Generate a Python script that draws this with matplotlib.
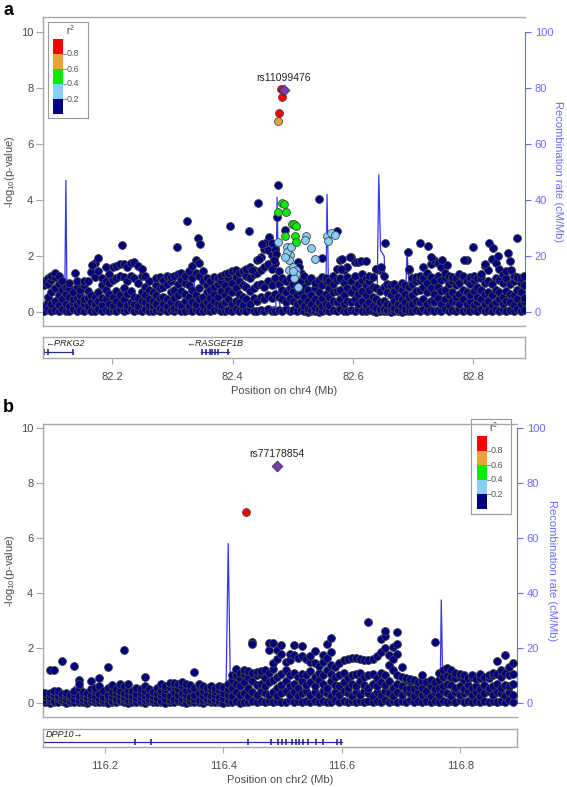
import matplotlib
matplotlib.use('Agg')
import matplotlib.pyplot as plt

plt.rcParams['font.family'] = ['Liberation Sans', 'DejaVu Sans']
plt.rcParams['mathtext.default'] = 'regular'

# ---------------- DATA ----------------
# r^2 legend bins and colours
r2_breaks = [0.2, 0.4, 0.6, 0.8]
r2_colors = ['#000080', '#87CEFA', '#00EE00', '#E8A33A', '#FF0000']
lead_color = '#7B3FA8'

# ---- Panel a (chr4) ----
a_xlim = (82.085, 82.886)
a_xticks = [82.2, 82.4, 82.6, 82.8]
a_lead_name = 'rs11099476'
a_lead_pos = [82.485]
a_lead_logp = [7.93]
a_red_pos = [82.480, 82.483, 82.477]
a_red_logp = [7.95, 7.67, 7.12]
a_orange_pos = [82.476]
a_orange_logp = [6.82]
a_green_pos = [82.483, 82.485, 82.476, 82.488, 82.499, 82.502, 82.506, 82.487, 82.503, 82.506]
a_green_logp = [3.90, 3.85, 3.56, 3.58, 3.14, 3.14, 3.08, 2.71, 2.71, 2.51]
a_lblue_pos = [82.476, 82.491, 82.495, 82.490, 82.497, 82.493, 82.493, 82.501, 82.506, 82.505,
               82.502, 82.509, 82.522, 82.521, 82.531, 82.537, 82.557, 82.558, 82.563, 82.570,
               82.487, 82.500]
a_lblue_logp = [2.51, 2.33, 2.04, 2.15, 2.33, 1.86, 1.50, 1.62, 1.50, 1.35,
                1.21, 0.90, 2.71, 2.56, 2.27, 1.89, 2.71, 2.55, 2.83, 2.75,
                1.98, 1.45]
# navy SNPs standing above the main band
a_top_pos = [82.217, 82.307, 82.325, 82.342, 82.346, 82.396, 82.428, 82.443, 82.476, 82.474,
             82.487, 82.460, 82.454, 82.449, 82.466, 82.470, 82.473, 82.469, 82.444, 82.432,
             82.508, 82.511, 82.543, 82.548, 82.573, 82.582, 82.596, 82.581, 82.614, 82.621,
             82.638, 82.646, 82.653, 82.691, 82.694, 82.712, 82.724, 82.729, 82.748, 82.756,
             82.784, 82.799, 82.820, 82.827, 82.832, 82.841, 82.857, 82.863, 82.873, 82.138,
             82.176, 82.166]
a_top_logp = [2.38, 2.33, 3.26, 2.65, 2.43, 3.08, 2.90, 3.88, 4.54, 3.40,
              2.93, 2.67, 2.45, 2.42, 2.45, 2.20, 2.07, 1.86, 1.89, 1.50,
              1.80, 1.60, 4.02, 1.94, 2.89, 1.89, 1.96, 1.52, 1.82, 1.82,
              1.54, 1.60, 2.48, 2.15, 1.52, 2.45, 2.37, 1.95, 1.86, 1.68,
              1.86, 2.33, 1.71, 2.45, 2.30, 2.00, 2.10, 1.50, 2.65, 1.38,
              1.92, 1.68]
# main band of low-LD SNPs, grouped by position
a_band_pos = [82.087, 82.093, 82.099, 82.105, 82.111, 82.117, 82.123, 82.129, 82.135, 82.141,
              82.147, 82.153, 82.159, 82.165, 82.171, 82.177, 82.183, 82.189, 82.195, 82.201,
              82.207, 82.213, 82.219, 82.225, 82.231, 82.237, 82.243, 82.249, 82.255, 82.261,
              82.267, 82.273, 82.279, 82.285, 82.291, 82.297, 82.303, 82.309, 82.315, 82.321,
              82.327, 82.333, 82.339, 82.345, 82.351, 82.357, 82.363, 82.369, 82.375, 82.381,
              82.387, 82.393, 82.399, 82.405, 82.411, 82.417, 82.423, 82.429, 82.435, 82.441,
              82.447, 82.453, 82.459, 82.465, 82.471, 82.477, 82.483, 82.489, 82.495, 82.501,
              82.507, 82.513, 82.519, 82.525, 82.531, 82.537, 82.543, 82.549, 82.555, 82.561,
              82.567, 82.573, 82.579, 82.585, 82.591, 82.597, 82.603, 82.609, 82.615, 82.621,
              82.627, 82.633, 82.639, 82.645, 82.651, 82.657, 82.663, 82.669, 82.675, 82.681,
              82.687, 82.693, 82.699, 82.705, 82.711, 82.717, 82.723, 82.729, 82.735, 82.741,
              82.747, 82.753, 82.759, 82.765, 82.771, 82.777, 82.783, 82.789, 82.795, 82.801,
              82.807, 82.813, 82.819, 82.825, 82.831, 82.837, 82.843, 82.849, 82.855, 82.861,
              82.867, 82.873, 82.879, 82.884]
a_band_logp = [
    [0.04, 0.2, 0.95, 1.1], [0.1, 0.35, 0.55, 1.0, 1.2], [0.05, 0.3, 0.7, 1.15, 1.3],
    [0.08, 0.4, 0.85, 1.25, 1.38], [0.03, 0.25, 0.6, 1.0, 1.3], [0.1, 0.45, 0.8, 1.1],
    [0.02, 0.3, 0.65, 0.9], [0.05, 0.2, 0.55, 0.85, 1.05], [0.1, 0.35, 0.45, 0.7],
    [0.03, 0.25, 0.5, 0.9, 1.1], [0.08, 0.4, 0.6, 0.8], [0.02, 0.3, 0.45, 0.95, 1.1],
    [0.1, 0.2, 0.5, 0.75, 1.12], [0.05, 0.35, 0.6, 1.44], [0.04, 0.3, 0.55, 1.25, 1.76],
    [0.1, 0.4, 0.7, 1.45], [0.02, 0.25, 0.5, 0.95, 1.2], [0.07, 0.45, 0.8, 1.1, 1.6],
    [0.03, 0.3, 0.65, 1.05, 1.35], [0.08, 0.2, 0.55, 1.15, 1.6], [0.05, 0.4, 0.75, 1.2, 1.65],
    [0.1, 0.3, 0.6, 1.3, 1.72], [0.02, 0.45, 0.85, 1.25, 1.7], [0.06, 0.25, 0.65, 1.1, 1.6],
    [0.1, 0.35, 0.75, 1.3, 1.75], [0.04, 0.3, 0.55, 1.2, 1.8], [0.08, 0.2, 0.5, 1.05, 1.65],
    [0.03, 0.4, 0.7, 1.3, 1.55], [0.1, 0.35, 0.6, 0.9, 1.3], [0.05, 0.25, 0.45, 0.8, 1.1],
    [0.02, 0.2, 0.4, 0.7], [0.08, 0.3, 0.6, 0.95, 1.2], [0.04, 0.15, 0.5, 0.85, 1.25],
    [0.1, 0.3, 0.55, 0.9, 1.15], [0.02, 0.2, 0.45, 1.0, 1.3], [0.06, 0.35, 0.7, 1.1, 1.25],
    [0.03, 0.15, 0.5, 0.8, 1.3], [0.09, 0.3, 0.6, 1.0, 1.35], [0.05, 0.25, 0.75, 1.15, 1.4],
    [0.02, 0.4, 0.65, 1.05, 1.3], [0.07, 0.2, 0.55, 0.95, 1.45], [0.04, 0.35, 0.8, 1.2, 1.65],
    [0.1, 0.3, 0.6, 1.4, 1.85], [0.05, 0.45, 0.85, 1.3, 1.75], [0.02, 0.25, 0.55, 1.1, 1.45],
    [0.08, 0.35, 0.7, 0.95, 1.2], [0.03, 0.2, 0.5, 0.8, 1.1], [0.06, 0.4, 0.65, 0.9, 1.25],
    [0.1, 0.3, 0.55, 1.0, 1.2], [0.04, 0.25, 0.75, 1.1, 1.3], [0.02, 0.35, 0.6, 0.95, 1.35],
    [0.08, 0.45, 0.8, 1.2, 1.4], [0.05, 0.3, 0.7, 1.05, 1.45], [0.1, 0.4, 0.85, 1.25, 1.5],
    [0.03, 0.35, 0.65, 1.1, 1.4], [0.07, 0.25, 0.55, 0.95, 1.45], [0.04, 0.45, 0.9, 1.3, 1.55],
    [0.1, 0.3, 0.75, 1.2, 1.6], [0.05, 0.5, 0.85, 1.35, 1.5], [0.02, 0.4, 0.95, 1.4, 1.85],
    [0.08, 0.55, 1.0, 1.5, 1.95], [0.04, 0.45, 0.9, 1.6, 2.25], [0.1, 0.6, 1.1, 1.7, 2.2],
    [0.05, 0.5, 0.95, 1.55, 2.05], [0.03, 0.65, 1.2, 1.75, 2.3], [0.08, 0.55, 1.0, 1.45],
    [0.05, 0.45, 0.8, 1.2], [0.1, 0.35, 0.7, 1.1], [0.04, 0.5, 0.85, 1.2], [0.07, 0.4, 0.75, 1.0],
    [0.02, 0.3, 0.6, 0.95], [0.06, 0.35, 0.7, 1.1, 1.4], [0.03, 0.2, 0.55, 0.9, 1.3],
    [0.01, 0.1, 0.4, 0.8, 1.1], [0.02, 0.08, 0.3, 0.6, 1.2], [0.04, 0.15, 0.45, 0.85, 1.05],
    [0.01, 0.1, 0.35, 0.7, 1.15], [0.03, 0.2, 0.5, 0.95, 1.25], [0.06, 0.3, 0.65, 1.1, 1.2],
    [0.02, 0.25, 0.55, 0.85, 1.1], [0.08, 0.4, 0.7, 1.0, 1.3], [0.04, 0.35, 0.75, 1.15, 1.55],
    [0.1, 0.45, 0.8, 1.2, 1.85], [0.05, 0.3, 0.6, 1.05, 1.5], [0.02, 0.4, 0.85, 1.25, 1.6],
    [0.07, 0.35, 0.7, 1.1, 1.95], [0.03, 0.45, 0.9, 1.3, 1.8], [0.09, 0.3, 0.65, 1.0, 1.8],
    [0.05, 0.4, 0.75, 1.15, 1.35], [0.02, 0.25, 0.6, 0.95, 1.2], [0.06, 0.35, 0.8, 1.1, 1.3],
    [0.04, 0.2, 0.55, 0.9, 1.25], [0.01, 0.15, 0.45, 0.85, 1.55], [0.03, 0.1, 0.35, 0.75, 1.5],
    [0.02, 0.12, 0.4, 0.9, 1.3], [0.05, 0.08, 0.3, 0.7, 1.0], [0.01, 0.1, 0.25, 0.6, 0.95],
    [0.02, 0.15, 0.4, 0.75, 1.0], [0.04, 0.08, 0.3, 0.55, 0.9], [0.01, 0.2, 0.45, 0.8, 1.05],
    [0.03, 0.12, 0.35, 0.65, 0.95], [0.05, 0.25, 0.55, 0.9, 1.5], [0.02, 0.3, 0.6, 1.0, 1.2],
    [0.07, 0.4, 0.75, 1.1, 1.25], [0.04, 0.35, 0.8, 1.15, 1.3], [0.09, 0.45, 0.9, 1.2, 1.6],
    [0.03, 0.3, 0.7, 1.05, 1.4], [0.06, 0.4, 0.85, 1.25, 1.7], [0.02, 0.35, 0.65, 1.1, 1.85],
    [0.08, 0.5, 0.9, 1.3, 1.75], [0.05, 0.3, 0.75, 1.15, 1.6], [0.1, 0.45, 0.8, 1.2, 1.4],
    [0.03, 0.25, 0.6, 1.0, 1.3], [0.07, 0.4, 0.7, 1.1, 1.25], [0.04, 0.35, 0.55, 0.95, 1.2],
    [0.09, 0.3, 0.65, 1.05, 1.35], [0.02, 0.45, 0.8, 1.2, 1.3], [0.06, 0.3, 0.7, 1.1, 1.85],
    [0.03, 0.4, 0.6, 1.0, 1.25], [0.08, 0.25, 0.75, 1.15, 1.3], [0.05, 0.35, 0.55, 0.9, 1.2],
    [0.1, 0.45, 0.8, 1.2, 1.35], [0.02, 0.3, 0.65, 1.05, 1.65], [0.07, 0.4, 0.7, 1.1, 1.5],
    [0.04, 0.25, 0.6, 1.0, 1.9], [0.09, 0.35, 0.8, 1.2, 1.75], [0.03, 0.45, 0.7, 1.15, 1.55],
    [0.06, 0.3, 0.55, 1.05, 1.35], [0.02, 0.4, 0.75, 1.2, 1.45], [0.08, 0.35, 0.65, 1.0, 1.82],
    [0.05, 0.25, 0.6, 1.1, 1.3], [0.1, 0.45, 0.8, 1.2, 1.25], [0.03, 0.3, 0.7, 1.05, 1.2],
    [0.06, 0.4, 0.5, 0.95, 1.3]]
a_rec_pos = [82.085, 82.089, 82.091, 82.093, 82.110, 82.121, 82.123, 82.125, 82.160, 82.200,
             82.250, 82.300, 82.332, 82.335, 82.338, 82.350, 82.400, 82.450, 82.472, 82.474,
             82.477, 82.480, 82.520, 82.555, 82.557, 82.560, 82.600, 82.640, 82.643, 82.646,
             82.652, 82.655, 82.687, 82.690, 82.692, 82.695, 82.750, 82.800, 82.886]
a_rec_rate = [0.6, 0.6, 5.0, 0.8, 0.9, 1.0, 47.0, 1.2, 0.8, 0.5,
              0.4, 0.3, 0.5, 18.0, 2.5, 1.5, 1.0, 1.2, 2.0, 41.0,
              5.0, 0.3, 0.3, 0.8, 42.0, 1.0, 0.8, 1.0, 49.0, 22.0,
              20.0, 1.0, 1.2, 22.0, 14.0, 1.0, 0.8, 0.8, 0.8]
a_genes = ['PRKG2', 'RASGEF1B']
a_gene_start = [82.06, 82.348]
a_gene_end = [82.135, 82.394]
a_gene_strand = ['-', '-']
a_gene_exons = [[82.087, 82.094, 82.135],
                [82.350, 82.356, 82.362, 82.366, 82.371, 82.376, 82.393]]

# ---- Panel b (chr2) ----
b_xlim = (116.095, 116.896)
b_xticks = [116.2, 116.4, 116.6, 116.8]
b_lead_name = 'rs77178854'
b_lead_pos = [116.490]
b_lead_logp = [8.63]
b_red_pos = [116.438]
b_red_logp = [6.95]
b_band_pos = [116.092, 116.099, 116.106, 116.113, 116.120, 116.127, 116.134, 116.141, 116.148, 116.155,
              116.162, 116.169, 116.176, 116.183, 116.190, 116.197, 116.204, 116.211, 116.218, 116.225,
              116.232, 116.239, 116.246, 116.253, 116.260, 116.267, 116.274, 116.281, 116.288, 116.295,
              116.302, 116.309, 116.316, 116.323, 116.330, 116.337, 116.344, 116.351, 116.358, 116.365,
              116.372, 116.379, 116.386, 116.393, 116.400, 116.407, 116.414, 116.421, 116.428, 116.435,
              116.442, 116.449, 116.456, 116.463, 116.470, 116.477, 116.484, 116.491, 116.498, 116.505,
              116.512, 116.519, 116.526, 116.533, 116.540, 116.547, 116.554, 116.561, 116.568, 116.575,
              116.582, 116.589, 116.596, 116.603, 116.610, 116.617, 116.624, 116.631, 116.638, 116.645,
              116.652, 116.659, 116.666, 116.673, 116.680, 116.687, 116.694, 116.701, 116.708, 116.715,
              116.722, 116.729, 116.736, 116.743, 116.750, 116.757, 116.764, 116.771, 116.778, 116.785,
              116.792, 116.799, 116.806, 116.813, 116.820, 116.827, 116.834, 116.841, 116.848, 116.855,
              116.862, 116.869, 116.876, 116.883, 116.890]
b_band_logp = [
    [0.02, 0.15, 0.3, 0.4], [0.05, 0.1, 0.25, 0.38], [0.01, 0.12, 0.2, 0.35, 1.2],
    [0.04, 0.08, 0.3, 0.42, 1.2], [0.02, 0.18, 0.27, 0.45], [0.06, 0.1, 0.22, 0.33, 1.53],
    [0.01, 0.14, 0.3, 0.38], [0.03, 0.09, 0.2, 0.28], [0.05, 0.16, 0.32, 0.45, 1.35],
    [0.02, 0.11, 0.24, 0.55, 0.84, 0.7], [0.04, 0.13, 0.3, 0.4], [0.01, 0.08, 0.2, 0.35],
    [0.06, 0.17, 0.28, 0.5, 0.81], [0.03, 0.1, 0.25, 0.42, 0.55], [0.02, 0.15, 0.33, 0.6, 0.9],
    [0.05, 0.12, 0.22, 0.45], [0.01, 0.18, 0.3, 0.55, 1.32], [0.04, 0.09, 0.26, 0.4, 0.65],
    [0.02, 0.14, 0.35, 0.5], [0.06, 0.11, 0.28, 0.45, 0.7], [0.03, 0.16, 0.22, 0.38, 0.6, 1.93],
    [0.01, 0.1, 0.3, 0.48, 0.68], [0.05, 0.13, 0.25, 0.42], [0.02, 0.17, 0.32, 0.55],
    [0.04, 0.08, 0.2, 0.36, 0.5], [0.01, 0.12, 0.27, 0.44, 0.93, 0.6], [0.06, 0.15, 0.3, 0.5],
    [0.03, 0.1, 0.24, 0.4], [0.02, 0.18, 0.35, 0.55], [0.05, 0.09, 0.28, 0.45, 0.68],
    [0.01, 0.14, 0.32, 0.5, 0.62], [0.04, 0.11, 0.26, 0.58, 0.72], [0.02, 0.16, 0.4, 0.6, 0.74],
    [0.06, 0.1, 0.3, 0.52, 0.7], [0.03, 0.13, 0.35, 0.62, 0.75], [0.01, 0.17, 0.28, 0.48, 0.7],
    [0.05, 0.09, 0.22, 0.5, 0.65], [0.02, 0.15, 0.3, 0.55, 1.14], [0.04, 0.12, 0.36, 0.6, 0.68],
    [0.01, 0.1, 0.25, 0.45, 0.6], [0.06, 0.16, 0.33, 0.55], [0.03, 0.11, 0.27, 0.5, 0.6],
    [0.02, 0.14, 0.3, 0.42, 0.55], [0.05, 0.09, 0.22, 0.48, 0.62], [0.01, 0.17, 0.35, 0.58],
    [0.04, 0.12, 0.3, 0.52, 0.7], [0.02, 0.25, 0.55, 0.85, 1.0], [0.06, 0.4, 0.7, 1.0, 1.24],
    [0.0, 0.3, 0.6, 0.9, 1.1], [0.05, 0.35, 0.75, 1.05, 1.2], [0.03, 0.25, 0.55, 0.95, 1.15],
    [0.08, 0.4, 0.8, 1.1, 2.23, 2.15], [0.02, 0.3, 0.65, 1.0, 1.12], [0.06, 0.45, 0.7, 1.05, 1.15],
    [0.04, 0.35, 0.6, 0.9, 1.2], [0.09, 0.3, 0.75, 1.1, 1.92, 2.17], [0.03, 0.4, 0.85, 1.25, 1.45, 2.17],
    [0.07, 0.25, 0.55, 0.95, 1.6, 1.92], [0.02, 0.35, 0.65, 1.05, 1.8, 2.1], [0.05, 0.45, 0.8, 1.2, 1.5],
    [0.1, 0.3, 0.6, 1.0, 1.55, 1.8], [0.04, 0.4, 0.7, 1.1, 1.75, 2.11], [0.08, 0.25, 0.55, 0.95, 1.65],
    [0.02, 0.35, 0.8, 1.05, 1.7, 2.08], [0.06, 0.45, 0.65, 1.0, 1.6], [0.03, 0.3, 0.75, 1.15, 1.5, 1.7],
    [0.09, 0.4, 0.6, 0.95, 1.45, 1.89], [0.04, 0.3, 0.85, 1.1, 1.35], [0.07, 0.45, 0.7, 1.0, 1.5, 1.75],
    [0.02, 0.35, 0.55, 1.2, 1.65, 2.15], [0.05, 0.25, 0.8, 1.05, 1.4, 2.35, 1.87], [0.1, 0.4, 0.65, 0.95, 1.3],
    [0.03, 0.3, 0.6, 1.0, 1.45], [0.06, 0.45, 0.75, 1.1, 1.55], [0.02, 0.35, 0.55, 0.9, 1.6],
    [0.08, 0.25, 0.7, 1.0, 1.62], [0.04, 0.4, 0.6, 1.05, 1.65], [0.09, 0.3, 0.8, 1.1, 1.6],
    [0.03, 0.45, 0.65, 0.95, 1.58], [0.06, 0.35, 0.55, 1.0, 1.55, 2.96], [0.02, 0.25, 0.7, 1.05, 1.6],
    [0.07, 0.4, 0.6, 0.9, 1.7], [0.04, 0.3, 0.75, 1.1, 1.85, 2.32], [0.1, 0.45, 0.65, 1.0, 2.0, 2.44, 2.62],
    [0.03, 0.35, 0.8, 1.4, 1.75], [0.06, 0.25, 0.55, 1.2, 1.6, 2.05], [0.02, 0.4, 0.7, 1.0, 1.8, 2.16, 2.57],
    [0.08, 0.3, 0.6, 0.95, 1.3], [0.04, 0.45, 0.5, 0.85, 0.9], [0.1, 0.35, 0.55, 0.8, 0.88],
    [0.03, 0.25, 0.5, 0.85], [0.06, 0.4, 0.6, 0.78], [0.02, 0.3, 0.55, 0.8, 1.02],
    [0.07, 0.35, 0.45, 0.75], [0.04, 0.25, 0.6, 0.82], [0.09, 0.4, 0.5, 0.78, 2.23],
    [0.03, 0.3, 0.55, 0.85, 1.1], [0.06, 0.45, 0.6, 0.95, 1.2], [0.02, 0.35, 0.7, 1.0, 1.28],
    [0.08, 0.25, 0.65, 0.95, 1.2], [0.04, 0.4, 0.55, 0.9, 1.1], [0.1, 0.3, 0.6, 0.95, 1.05],
    [0.03, 0.35, 0.5, 0.85, 1.0], [0.06, 0.45, 0.65, 0.9], [0.02, 0.3, 0.55, 0.95, 1.0],
    [0.07, 0.4, 0.6, 0.88], [0.04, 0.25, 0.5, 0.92, 1.05], [0.09, 0.35, 0.65, 0.95],
    [0.03, 0.45, 0.55, 0.9, 1.0], [0.06, 0.3, 0.6, 1.0, 1.1], [0.02, 0.4, 0.7, 1.05, 1.54],
    [0.08, 0.35, 0.55, 0.95, 1.2], [0.04, 0.25, 0.65, 1.1, 1.75], [0.1, 0.4, 0.6, 1.0, 1.3],
    [0.03, 0.3, 0.7, 1.05, 1.47]]
b_rec_pos = [116.095, 116.120, 116.146, 116.148, 116.150, 116.200, 116.225, 116.227, 116.229, 116.300,
             116.380, 116.404, 116.408, 116.412, 116.450, 116.600, 116.700, 116.766, 116.768, 116.770,
             116.784, 116.786, 116.850, 116.896]
b_rec_rate = [0.3, 0.3, 0.4, 6.0, 0.4, 0.3, 0.3, 5.5, 0.3, 0.2,
              0.3, 0.6, 58.0, 0.4, 0.2, 0.2, 0.2, 0.3, 37.5, 13.5,
              13.0, 0.4, 0.3, 0.3]
b_genes = ['DPP10']
b_gene_start = [116.0]
b_gene_end = [116.600]
b_gene_strand = ['+']
b_gene_exons = [[116.250, 116.277, 116.442, 116.480, 116.492, 116.499, 116.506, 116.515,
                 116.522, 116.527, 116.535, 116.543, 116.557, 116.569, 116.591, 116.598]]

# ---------------- LAYOUT / STYLE ----------------
W, H = 567, 787
fig = plt.figure(figsize=(W / 100, H / 100), dpi=100)

GRAY = '#A8A8A8'
TXT = '#4a4a4a'
BLUE_LINE = '#3535F5'
BLUE_AX = '#6A6AFF'
EDGE = '#454545'


def ax_px(l, t, r, b):
    return fig.add_axes([l / W, 1 - b / H, (r - l) / W, (b - t) / H])


def flatten(pos, cols):
    xs, ys = [], []
    for p, c in zip(pos, cols):
        for v in c:
            xs.append(p)
            ys.append(v)
    return xs, ys


def draw_panel(box, ylim, xlim, xticks, chrom, band_pos, band_logp, extra, lead, lead_name,
               rec_pos, rec_rate, gene_box, genes, gstart, gend, gstrand, gexons,
               legend_box, legend_bar, rlabel_px):
    l, t, r, b = box
    ax = ax_px(l, t, r, b)
    axr = ax.twinx()
    # recombination rate, drawn behind the SNPs
    axr.plot(rec_pos, rec_rate, color=BLUE_LINE, lw=0.9)
    axr.set_ylim(ylim[0] * 10, ylim[1] * 10)
    ax.set_zorder(axr.get_zorder() + 1)
    ax.patch.set_visible(False)

    bx, by = flatten(band_pos, band_logp)
    ax.scatter(bx, by, s=32, c=r2_colors[0], edgecolors=EDGE, linewidths=0.6, zorder=3)
    for (px, py, col) in extra:
        ax.scatter(px, py, s=32, c=col, edgecolors=EDGE, linewidths=0.6, zorder=4)
    lp, ll = lead
    ax.scatter(lp, ll, s=30, marker='D', c=lead_color, edgecolors='#3a2a60', linewidths=0.6, zorder=5)
    ax.annotate(lead_name, (lp[0], ll[0]), xytext=(0, 5), textcoords='offset points',
                ha='center', va='bottom', fontsize=7.5, color='#222222')

    ax.set_xlim(*xlim)
    ax.set_ylim(*ylim)
    ax.set_xticks([])
    ax.set_yticks([0, 2, 4, 6, 8, 10])
    ax.tick_params(axis='y', colors=GRAY, labelcolor=TXT, labelsize=8, length=5, width=0.8, pad=2)
    for s in ['top', 'left', 'bottom']:
        ax.spines[s].set_color(GRAY)
        ax.spines[s].set_linewidth(1.0)
    ax.spines['right'].set_visible(False)
    ax.set_ylabel('-log$_{10}$(p-value)', fontsize=8, color=TXT)
    ax.yaxis.set_label_coords((17 - l) / (r - l), 0.5)

    for s in ['top', 'left', 'bottom']:
        axr.spines[s].set_visible(False)
    axr.spines['right'].set_color(BLUE_AX)
    axr.spines['right'].set_bounds(0, 100)
    axr.set_yticks([0, 20, 40, 60, 80, 100])
    axr.tick_params(axis='y', colors=BLUE_AX, labelcolor=BLUE_AX, labelsize=8, length=4, width=0.8, pad=3)
    axr.set_ylabel('Recombination rate (cM/Mb)', fontsize=8, color=BLUE_AX, rotation=270)
    axr.yaxis.set_label_coords((rlabel_px - l) / (r - l), 0.5)

    # gene track
    gl, gt, gr, gb = gene_box
    ag = ax_px(gl, gt, gr, gb)
    ag.set_xlim(*xlim)
    ag.set_ylim(0, 1)
    ag.set_yticks([])
    ag.set_xticks(xticks)
    ag.set_xticklabels([f'{v:.1f}' for v in xticks])
    ag.tick_params(axis='x', colors=GRAY, labelcolor=TXT, labelsize=8, length=4, width=0.8, pad=6)
    for s in ag.spines.values():
        s.set_color(GRAY)
        s.set_linewidth(1.0)
    ag.set_xlabel(f'Position on {chrom} (Mb)', fontsize=8, color=TXT, labelpad=3)
    for name, s0, s1, st, ex in zip(genes, gstart, gend, gstrand, gexons):
        ag.plot([s0, s1], [0.27, 0.27], color='#2a2a9a', lw=0.9, clip_on=True)
        ag.plot(ex, [0.27] * len(ex), ls='none', marker='|', ms=4, mew=1.2, color='#2a2a9a')
        lab = ('\u2190' + name) if st == '-' else (name + '\u2192')
        if s0 < xlim[0]:
            ag.text(xlim[0] + 0.004, 0.68, lab, ha='left', va='center', fontsize=6.5,
                    style='italic', color='#222222')
        else:
            ag.text((s0 + s1) / 2, 0.68, lab, ha='center', va='center', fontsize=6.5,
                    style='italic', color='#222222')

    # r^2 legend
    ll_, lt_, lr_, lb_ = legend_box
    bl, btop, br, bbot = legend_bar
    al = ax_px(ll_, lt_, lr_, lb_)
    bar_h = bbot - btop
    al.set_xlim(0, lr_ - ll_)
    al.set_ylim(-(lb_ - bbot) / bar_h, 1 + (btop - lt_) / bar_h)
    al.set_xticks([])
    al.set_yticks([])
    for s in al.spines.values():
        s.set_color('#999999')
        s.set_linewidth(0.8)
    edges = [0.0] + r2_breaks + [1.0]
    x0 = bl - ll_
    x1 = br - ll_
    for i, col in enumerate(r2_colors):
        al.fill_between([x0, x1], edges[i], edges[i + 1], color=col, lw=0)
    for v in r2_breaks:
        al.plot([x1, x1 + 2.5], [v, v], color='#777777', lw=0.6)
        al.text(x1 + 3.5, v, f'{v:.1f}', fontsize=6.5, color='#555555', va='center', ha='left')
    al.text((lr_ - ll_) / 2 + 2, 1 + 0.5 * (btop - lt_) / bar_h, 'r$^2$', fontsize=7,
            color='#444444', ha='center', va='center')
    return ax


# Panel a
draw_panel(box=(43, 17, 525, 326), ylim=(-0.5, 10.54), xlim=a_xlim, xticks=a_xticks, chrom='chr4',
           band_pos=a_band_pos, band_logp=a_band_logp,
           extra=[(a_top_pos, a_top_logp, r2_colors[0]),
                  (a_lblue_pos, a_lblue_logp, r2_colors[1]),
                  (a_green_pos, a_green_logp, r2_colors[2]),
                  (a_orange_pos, a_orange_logp, r2_colors[3]),
                  (a_red_pos, a_red_logp, r2_colors[4])],
           lead=(a_lead_pos, a_lead_logp), lead_name=a_lead_name,
           rec_pos=a_rec_pos, rec_rate=a_rec_rate,
           gene_box=(43, 337, 525, 358), genes=a_genes, gstart=a_gene_start, gend=a_gene_end,
           gstrand=a_gene_strand, gexons=a_gene_exons,
           legend_box=(48, 22, 88, 118), legend_bar=(53, 39, 63, 114), rlabel_px=563)

# Panel b
draw_panel(box=(43, 424, 517, 717), ylim=(-0.51, 10.15), xlim=b_xlim, xticks=b_xticks, chrom='chr2',
           band_pos=b_band_pos, band_logp=b_band_logp,
           extra=[(b_red_pos, b_red_logp, r2_colors[4])],
           lead=(b_lead_pos, b_lead_logp), lead_name=b_lead_name,
           rec_pos=b_rec_pos, rec_rate=b_rec_rate,
           gene_box=(43, 729, 517, 747), genes=b_genes, gstart=b_gene_start, gend=b_gene_end,
           gstrand=b_gene_strand, gexons=b_gene_exons,
           legend_box=(471, 419, 511, 514), legend_bar=(477, 436, 487, 509), rlabel_px=557)

fig.text(3 / W, 1 - 2 / H, 'a', fontsize=13, fontweight='bold', ha='left', va='top')
fig.text(3 / W, 1 - 399 / H, 'b', fontsize=13, fontweight='bold', ha='left', va='top')

fig.savefig('out.png', dpi=100)
